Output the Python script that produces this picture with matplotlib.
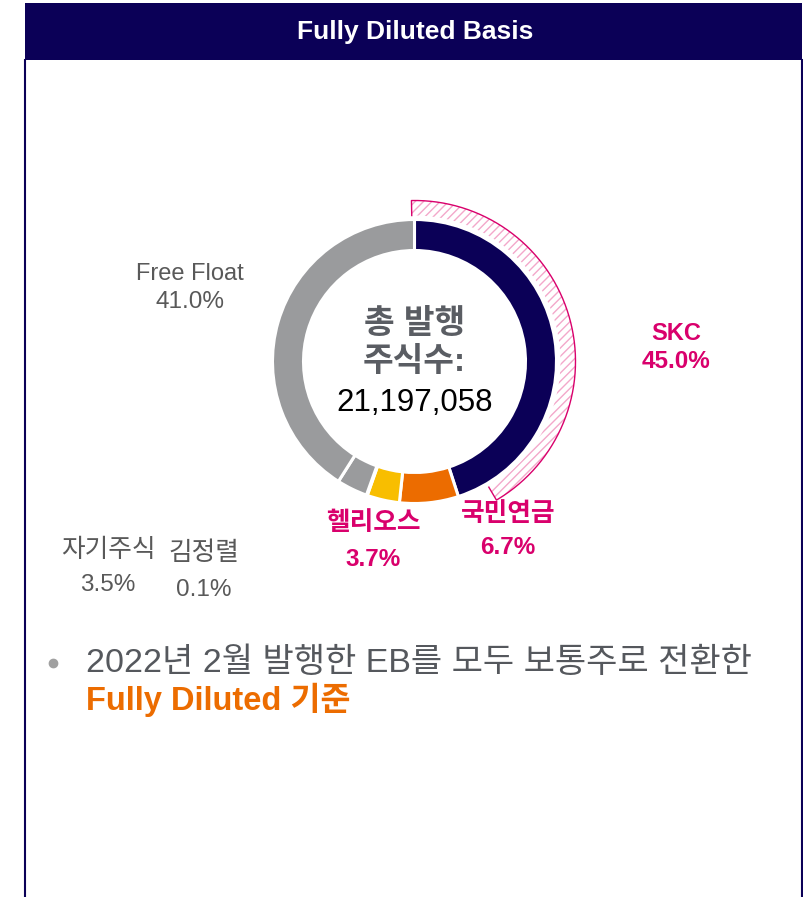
import matplotlib
matplotlib.use('Agg')
import numpy as np
from matplotlib import pyplot as plt
from matplotlib.patches import Rectangle, Wedge

# shareholders, clockwise from 12 o'clock
holders = ["SKC", "국민연금", "헬리오스", "김정렬", "자기주식", "Free Float"]
shares = [45.0, 6.7, 3.7, 0.1, 3.5, 41.0]
colors = ["#0B0057", "#EC6C00", "#F8BE00", "#9A9B9D", "#9A9B9D", "#9A9B9D"]
highlight = [True, True, True, False, False, False]

total_shares = "21,197,058"
# hatched outer arc (start / end, % of circle from 12 o'clock)
hatch_pct = [-0.3, 41.5]

W, H = 804, 897
NAVY = "#0B0057"
PINK = "#D9006C"
GRAY = "#595959"
FONT = ["Liberation Sans", "Noto Sans CJK KR"]
plt.rcParams['font.family'] = FONT


def py(y):
    # image row -> data y
    return H - y


fig = plt.figure(figsize=(W / 100, H / 100), dpi=100)
ax = fig.add_axes([0, 0, 1, 1])

cx, cy = 414.5, py(361.5)
R = 142

ax.pie(shares, radius=R, center=(cx, cy), startangle=90, counterclock=False,
       colors=colors, wedgeprops=dict(width=31, edgecolor="white", linewidth=2.2))

# hatched arc outside SKC
t1 = 90 - hatch_pct[1] * 3.6
t2 = 90 - hatch_pct[0] * 3.6
r_out, r_in = 161, 146
ax.add_patch(Wedge((cx, cy), r_out, t1, t2, width=r_out - r_in,
                   facecolor="white", edgecolor="#F3A8CA", linewidth=0, hatch="////"))
th = np.radians(np.linspace(t2, t1, 200))
ox = np.r_[cx + r_in * np.cos(th[0]), cx + r_out * np.cos(th), cx + r_in * np.cos(th[-1])]
oy = np.r_[cy + r_in * np.sin(th[0]), cy + r_out * np.sin(th), cy + r_in * np.sin(th[-1])]
ax.plot(ox, oy, color=PINK, lw=1.0)

# frame + header
ax.add_patch(Rectangle((25, py(60)), 777, 57, facecolor=NAVY, edgecolor="none"))
ax.plot([25, 25], [py(60), 0], color=NAVY, lw=1.5)
ax.plot([802, 802], [py(60), 0], color=NAVY, lw=1.5)
ax.text(415, py(32), "Fully Diluted Basis", color="white", fontsize=19,
        fontweight="bold", ha="center", va="center")

# centre text
ax.text(cx, py(324), "총 발행", color="#5A5D63", fontsize=24, fontweight="bold",
        ha="center", va="center")
ax.text(cx, py(362), "주식수:", color="#5A5D63", fontsize=24, fontweight="bold",
        ha="center", va="center")
ax.text(cx, py(403), total_shares, color="black", fontsize=22.5, ha="center", va="center")

# labels
label_pos = [(676, 333, 361), (508, 514, 548), (373, 523, 560),
             (204, 553, 590), (108, 550, 585), (190, 274, 302)]
for name, v, hl, (x, y1, y2) in zip(holders, shares, highlight, label_pos):
    c = PINK if hl else GRAY
    w = "bold" if hl else "normal"
    fs = 17 if name.isascii() else 18.5
    ax.text(x, py(y1), name, color=c, fontsize=fs, fontweight=w, ha="center", va="center")
    ax.text(x, py(y2), f"{v:.1f}%", color=c, fontsize=17.5, fontweight=w,
            ha="center", va="center")

# note
ax.plot([53], [py(663)], "o", color="#A0A0A0", markersize=6)
ax.text(86, py(663), "2022년 2월 발행한 EB를 모두 보통주로 전환한", color="#55585D",
        fontsize=24.5, ha="left", va="center")
ax.text(86, py(700), "Fully Diluted 기준", color="#EC6C00", fontsize=23.5,
        fontweight="bold", ha="left", va="center")

ax.set_xlim(0, W)
ax.set_ylim(0, H)
ax.axis("off")

plt.savefig("out.png", dpi=100)
